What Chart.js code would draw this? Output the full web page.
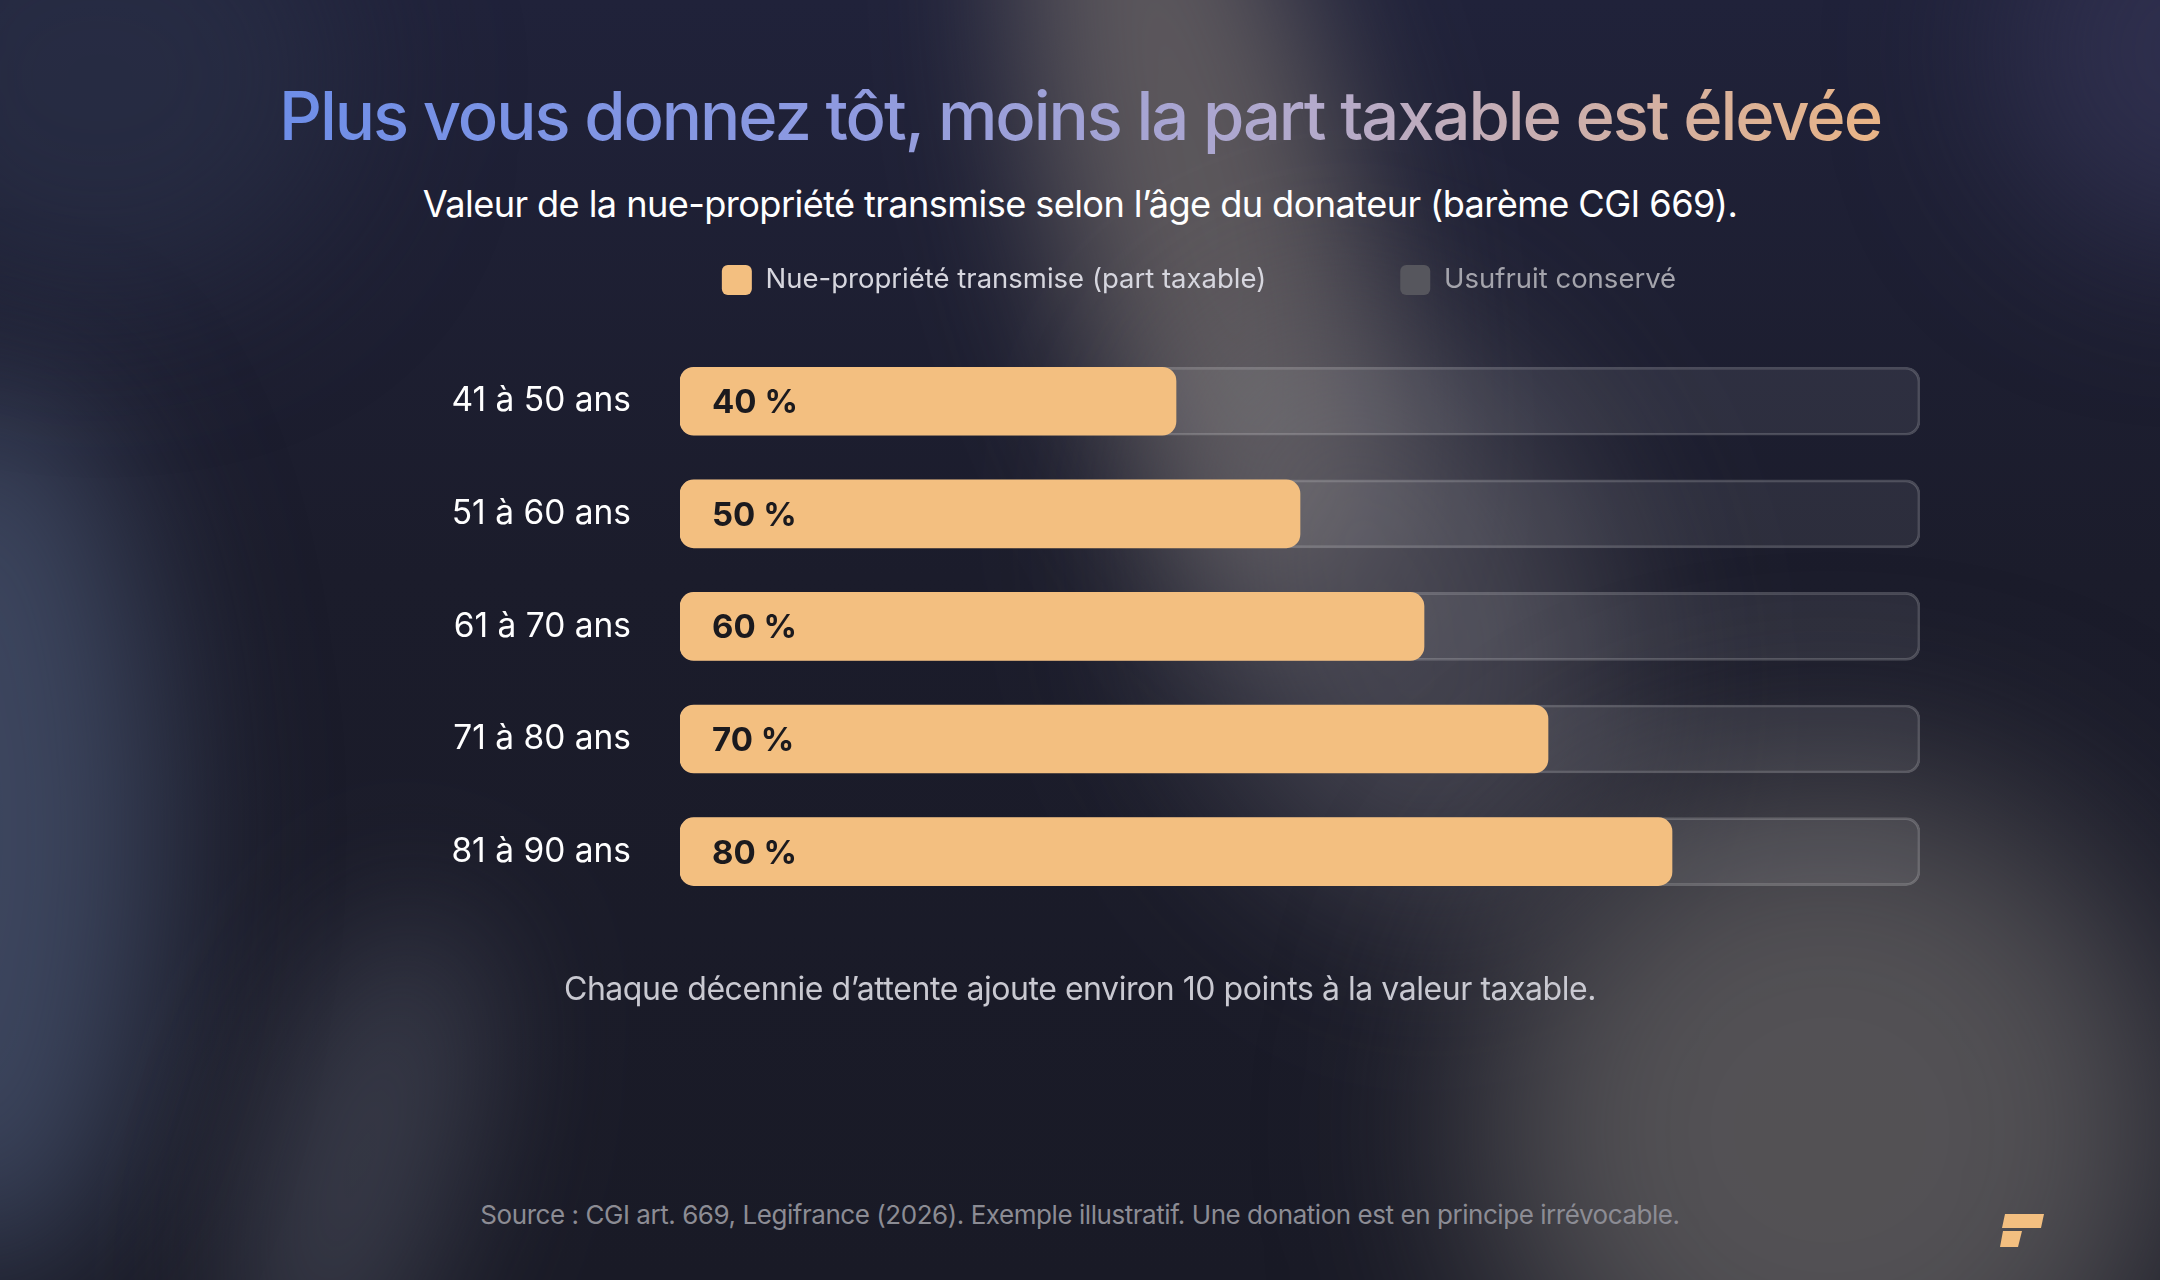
<!DOCTYPE html>
<html>
<head>
<meta charset="utf-8">
<script src="https://cdn.jsdelivr.net/npm/chart.js@4.4.1/dist/chart.umd.min.js"></script>
<style>
  html, body { margin:0; padding:0; }
  body {
    width:2160px; height:1280px; overflow:hidden; position:relative;
    font-family: Inter, "Noto Sans", sans-serif;
    background: linear-gradient(180deg, #20223a 0%, #1b1c2b 45%, #191a26 100%);
  }
  #bg { position:absolute; left:0; top:0; width:2160px; height:1280px; overflow:hidden; }
  .blob { position:absolute; border-radius:50%; }
  .txt { position:absolute; left:0; width:2160px; text-align:center; white-space:nowrap; }
  #title { top:71px; font-size:67px; font-weight:500; letter-spacing:-2.1px; line-height:90px; }
  #title span {
    background: linear-gradient(90deg, #6e8ee8 0%, #8e9ae0 35%, #b4aacb 65%, #e9b486 100%);
    -webkit-background-clip:text; background-clip:text; color:transparent;
  }
  #subtitle { top:182px; font-size:36.2px; color:#ffffff; letter-spacing:-0.6px; line-height:44px; }
  #note { top:969px; font-size:32px; color:#c9c9d1; letter-spacing:-0.45px; line-height:40px; }
  #source { top:1198px; font-size:26px; color:#8c8c94; letter-spacing:-0.45px; line-height:34px; }
  #chartBox { position:absolute; left:440px; top:131px; width:1551px; height:846px; }
  #logo { position:absolute; left:1998px; top:1212px; }
</style>
</head>
<body>
<div id="bg">
  <div class="blob" style="left:1050px; top:-260px; width:300px; height:900px; background:rgba(112,106,104,0.75); filter:blur(70px); transform:rotate(-14deg);"></div>
  <div class="blob" style="left:1180px; top:300px; width:420px; height:620px; background:rgba(100,98,108,0.55); filter:blur(90px); transform:rotate(-20deg);"></div>
  <div class="blob" style="left:1480px; top:780px; width:700px; height:700px; background:rgba(98,95,96,0.8); filter:blur(100px);"></div>
  <div class="blob" style="left:-200px; top:380px; width:360px; height:900px; background:rgba(72,84,112,0.75); filter:blur(80px);"></div>
  <div class="blob" style="left:260px; top:900px; width:200px; height:520px; background:rgba(82,86,100,0.55); filter:blur(70px); transform:rotate(18deg);"></div>
  <div class="blob" style="left:2000px; top:-150px; width:400px; height:400px; background:rgba(52,52,86,0.7); filter:blur(80px);"></div>
  <div class="blob" style="left:-150px; top:-150px; width:500px; height:450px; background:rgba(44,50,74,0.6); filter:blur(80px);"></div>
</div>
<div id="title" class="txt"><span>Plus vous donnez tôt, moins la part taxable est élevée</span></div>
<div id="subtitle" class="txt">Valeur de la nue-propriété transmise selon l’âge du donateur (barème CGI 669).</div>
<div id="chartBox"><canvas id="c"></canvas></div>
<div id="note" class="txt">Chaque décennie d’attente ajoute environ 10 points à la valeur taxable.</div>
<div id="source" class="txt">Source : CGI art. 669, Legifrance (2026). Exemple illustratif. Une donation est en principe irrévocable.</div>
<svg id="logo" width="48" height="38" viewBox="0 0 48 38">
  <path d="M7 2 H46 L43 16 H4 Z" fill="#f3bf80"/>
  <path d="M5 19 H24 L20 35 H2 Z" fill="#f3bf80"/>
</svg>
<script>
const categories = ['41 à 50 ans', '51 à 60 ans', '61 à 70 ans', '71 à 80 ans', '81 à 90 ans'];
const taxable = [40, 50, 60, 70, 80];
const usufruit = [60, 50, 40, 30, 20];
const seriesNames = ['Nue-propriété transmise (part taxable)', 'Usufruit conservé'];

const valueLabels = {
  id: 'valueLabels',
  afterDatasetsDraw(chart) {
    const ctx = chart.ctx;
    const meta = chart.getDatasetMeta(0);
    ctx.save();
    ctx.font = '700 33px Inter, sans-serif';
    ctx.fillStyle = '#1b1a1e';
    ctx.textBaseline = 'middle';
    ctx.textAlign = 'left';
    meta.data.forEach((bar, i) => {
      ctx.fillText(taxable[i] + ' %', bar.base + 32, bar.y + 2);
    });
    ctx.restore();
  }
};

const legendShift = {
  id: 'legendShift',
  afterLayout(chart) {
    if (chart.legend) {
      chart.legend.left += 19;
      chart.legend.right += 19;
    }
  }
};

new Chart(document.getElementById('c'), {
  type: 'bar',
  data: {
    labels: categories,
    datasets: [
      {
        label: seriesNames[0],
        data: taxable,
        backgroundColor: '#f3bf80',
        borderRadius: 14,
        borderSkipped: false,
        barThickness: 68,
        grouped: false
      },
      {
        label: seriesNames[1],
        data: taxable.map((t, i) => t + usufruit[i]),
        backgroundColor: 'rgba(255,255,255,0.08)',
        borderColor: 'rgba(255,255,255,0.2)',
        borderWidth: 2,
        borderRadius: 14,
        borderSkipped: false,
        barThickness: 68,
        grouped: false
      }
    ]
  },
  options: {
    indexAxis: 'y',
    responsive: true,
    maintainAspectRatio: false,
    animation: false,
    layout: { padding: { left: 0, right: 71, top: 0, bottom: 0 } },
    scales: {
      x: {
        min: 0, max: 100, position: 'top', display: true,
        grid: { display: false, drawTicks: false },
        border: { display: false },
        ticks: { display: false },
        afterFit(scale) { scale.height = 40; }
      },
      y: {
        grid: { display: false, drawTicks: false },
        border: { display: false },
        ticks: { color: '#ffffff', font: { family: 'Inter', size: 33.5 }, padding: 49 },
        afterFit(scale) { scale.width = 240; }
      }
    },
    plugins: {
      tooltip: { enabled: false },
      legend: {
        position: 'top',
        labels: {
          font: { family: 'Inter', size: 27.5 },
          boxWidth: 30,
          boxHeight: 30,
          padding: 134,
          useBorderRadius: true,
          borderRadius: 6,
          generateLabels(chart) {
            const cols = ['#f3bf80', '#56565d'];
            const txt = ['#d6d6de', '#a4a4ac'];
            return chart.data.datasets.map((ds, i) => ({
              text: ds.label,
              fillStyle: cols[i],
              strokeStyle: cols[i],
              lineWidth: 0,
              fontColor: txt[i],
              borderRadius: 6,
              datasetIndex: i,
              hidden: false
            }));
          }
        }
      }
    }
  },
  plugins: [valueLabels, legendShift]
});
</script>
</body>
</html>
